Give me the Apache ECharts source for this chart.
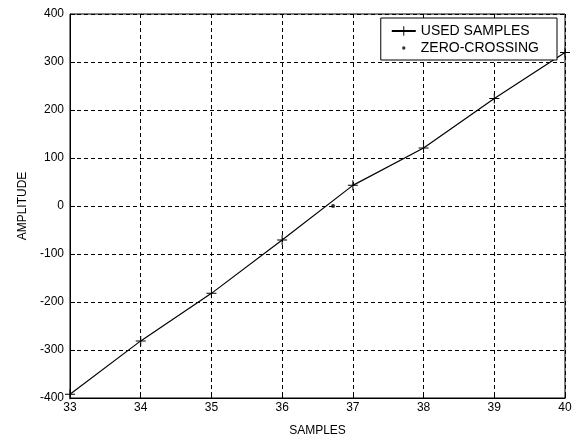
<!DOCTYPE html>
<html>
<head>
<meta charset="utf-8">
<script src="https://cdn.jsdelivr.net/npm/echarts@6/dist/echarts.min.js"></script>
<style>html,body{margin:0;padding:0;background:#fff;}#c{width:576px;height:442px;}</style>
</head>
<body>
<div id="c"></div>
<script>
var sampleX = [33, 34, 35, 36, 37, 38, 39, 40];
var sampleY = [-392, -281, -182, -71, 43, 121, 224, 320];
var zeroX = [36.72];
var zeroY = [0];
var xTicks = [33, 34, 35, 36, 37, 38, 39, 40];
var yTicks = [-400, -300, -200, -100, 0, 100, 200, 300, 400];
var seriesNames = ['USED SAMPLES', 'ZERO-CROSSING'];

var chart = echarts.init(document.getElementById('c'), null, {renderer: 'canvas'});
var plusPath = 'path://M0,4.5h10v1h-10z M4.5,0h1v10h-1z';
var dotPath = 'path://M0,0L0,0M10,10L10,10M3.6,5a1.4,1.4 0 1,0 2.8,0a1.4,1.4 0 1,0 -2.8,0z';
var font = 'Liberation Sans, Arial, sans-serif';
var gridLine = {show: true, lineStyle: {color: '#000', type: [4, 3], width: 1}};
chart.setOption({
  animation: false,
  backgroundColor: '#fff',
  grid: {left: 70, right: 11, top: 14, bottom: 40, show: true, borderColor: '#000', borderWidth: 1, backgroundColor: 'transparent'},
  legend: {
    orient: 'vertical', right: 19, top: 18,
    backgroundColor: '#fff', borderColor: '#000', borderWidth: 1,
    padding: [6, 18, 5, 10], itemGap: 3, itemWidth: 24, itemHeight: 12,
    textStyle: {fontFamily: font, fontSize: 14, color: '#000'},
    data: [
      {name: seriesNames[0]},
      {name: seriesNames[1], icon: dotPath}
    ]
  },
  xAxis: {
    type: 'value', min: 33, max: 40, interval: 1,
    name: 'SAMPLES', nameLocation: 'middle', nameGap: 27,
    nameTextStyle: {fontFamily: font, fontSize: 12, color: '#000'},
    axisLine: {show: true, onZero: false, lineStyle: {color: '#000', width: 1}},
    axisTick: {show: true, inside: true, length: 5, lineStyle: {color: '#000'}},
    axisLabel: {fontFamily: font, fontSize: 12, color: '#000', margin: 4,
      formatter: function (v) { return xTicks.indexOf(v) >= 0 ? String(v) : ''; }},
    splitLine: gridLine
  },
  yAxis: {
    type: 'value', min: -400, max: 400, interval: 100,
    name: 'AMPLITUDE', nameLocation: 'middle', nameGap: 40, nameRotate: 90,
    nameTextStyle: {fontFamily: font, fontSize: 12, color: '#000'},
    axisLine: {show: true, onZero: false, lineStyle: {color: '#000', width: 1}},
    axisTick: {show: true, inside: true, length: 5, lineStyle: {color: '#000'}},
    axisLabel: {fontFamily: font, fontSize: 12, color: '#000', margin: 6,
      formatter: function (v) { return yTicks.indexOf(v) >= 0 ? String(v) : ''; }},
    splitLine: gridLine
  },
  series: [
    {
      name: seriesNames[0], type: 'line',
      data: sampleX.map(function (x, i) { return [x, sampleY[i]]; }),
      symbol: plusPath, symbolSize: 10, showSymbol: true,
      lineStyle: {color: '#000', width: 1.2},
      itemStyle: {color: '#000'}
    },
    {
      name: seriesNames[1], type: 'scatter',
      data: zeroX.map(function (x, i) { return [x, zeroY[i]]; }),
      symbol: 'circle', symbolSize: 4,
      itemStyle: {color: '#000'}
    }
  ]
});
</script>
</body>
</html>
